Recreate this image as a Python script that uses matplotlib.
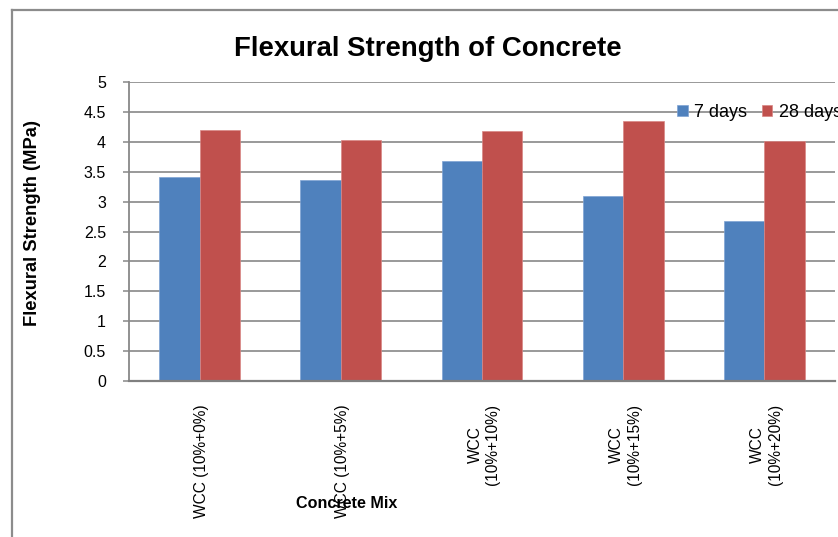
import matplotlib
matplotlib.use("Agg")
import matplotlib.pyplot as plt
from matplotlib.lines import Line2D
import numpy as np

# Data
mixes = ["WCC (10%+0%)", "WCC (10%+5%)", "WCC\n(10%+10%)", "WCC\n(10%+15%)", "WCC\n(10%+20%)"]
series_names = ["7 days", "28 days"]
strength_7d = [3.42, 3.36, 3.68, 3.10, 2.67]
strength_28d = [4.21, 4.03, 4.18, 4.36, 4.02]
y_ticks = [0, 0.5, 1, 1.5, 2, 2.5, 3, 3.5, 4, 4.5, 5]
y_tick_labels = ["0", "0.5", "1", "1.5", "2", "2.5", "3", "3.5", "4", "4.5", "5"]

W, H = 838, 537
DPI = 100
plt.rcParams["font.family"] = ["Liberation Sans", "DejaVu Sans"]

fig = plt.figure(figsize=(W / DPI, H / DPI), dpi=DPI)
fig.patch.set_facecolor("white")

# plot area in pixel coordinates
left, right, top, bottom = 129, 835, 82.5, 380.7
ax = fig.add_axes([left / W, 1 - bottom / H, (right - left) / W, (bottom - top) / H])

x = np.arange(len(mixes))
bw = 1 / 3.5
blue, red = "#4F81BD", "#C0504D"
ax.bar(x - bw / 2, strength_7d, width=bw, color=blue, edgecolor="#7FA3D3",
       linewidth=0.5, label=series_names[0], zorder=3)
ax.bar(x + bw / 2, strength_28d, width=bw, color=red, edgecolor="#D98785",
       linewidth=0.5, label=series_names[1], zorder=3)

ax.set_xlim(-0.5, len(mixes) - 0.5)
ax.set_ylim(0, 5)
ax.set_yticks(y_ticks)
ax.set_yticklabels(y_tick_labels)
ax.set_xticks(x + 0.015)
ax.set_xticklabels(mixes, rotation=90, ha="center", va="top",
                   multialignment="center", fontsize=11.2)

grid_c = "#888888"
ax.yaxis.grid(True, color=grid_c, linewidth=1.2, zorder=0)
ax.set_axisbelow(True)
for s in ["top", "right"]:
    ax.spines[s].set_visible(False)
ax.spines["left"].set_color(grid_c)
ax.spines["left"].set_linewidth(1.3)
ax.spines["bottom"].set_color("#808080")
ax.spines["bottom"].set_linewidth(1.6)
ax.spines["bottom"].set_zorder(4)

ax.tick_params(axis="y", length=4, width=1.1, color=grid_c, pad=12.5,
               labelsize=11.5, labelcolor="black")
ax.tick_params(axis="x", length=0, pad=17, labelcolor="black")

# legend above the gridline at 4.5
fig.legend(loc="center left", bbox_to_anchor=(677 / W, 1 - 112.5 / H),
           ncol=2, frameon=False, fontsize=13, handlelength=0.6,
           handleheight=0.6, handletextpad=0.35, columnspacing=0.8,
           borderpad=0, borderaxespad=0)

# titles
fig.text(428 / W, 1 - 49.5 / H, "Flexural Strength of Concrete", ha="center",
         va="center", fontsize=19.8, fontweight="bold")
fig.text(33 / W, 1 - 223 / H, "Flexural Strength (MPa)", ha="center",
         va="center", rotation=90, fontsize=13.2, fontweight="bold")
fig.text(346.5 / W, 1 - 504 / H, "Concrete Mix", ha="center", va="center",
         fontsize=11.6, fontweight="bold")

# chart frame
frame_c = "#8C8C8C"
fig.add_artist(Line2D([11.5 / W, 11.5 / W], [1 - 9.5 / H, -0.05],
                      transform=fig.transFigure, color=frame_c, linewidth=1.6))
fig.add_artist(Line2D([11.5 / W, 1.05], [1 - 9.5 / H, 1 - 9.5 / H],
                      transform=fig.transFigure, color=frame_c, linewidth=1.6))

fig.savefig("out.png", dpi=DPI)
